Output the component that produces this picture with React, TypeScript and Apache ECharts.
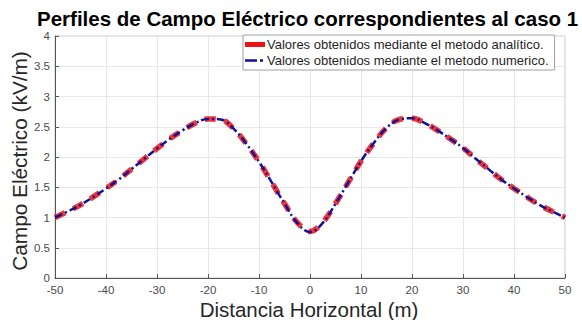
import React, { useEffect, useRef } from "react";
import * as echarts from "echarts";

const distances = [
  -50, -47.5, -45, -42.5, -40, -37.5, -35, -32.5, -30, -27.5, -25, -22.5, -20, -17.5, -15, -12.5, -10, -7.5, -5, -2.5,
  0, 2.5, 5, 7.5, 10, 12.5, 15, 17.5, 20, 22.5, 25, 27.5, 30, 32.5, 35, 37.5, 40, 42.5, 45, 47.5, 50,
];
const analytic = [
  1.0, 1.1, 1.21, 1.34, 1.48, 1.63, 1.8, 1.97, 2.14, 2.3, 2.44, 2.56, 2.63, 2.62, 2.47, 2.22, 1.92, 1.58, 1.23, 0.92,
  0.77, 0.92, 1.23, 1.58, 1.93, 2.23, 2.48, 2.62, 2.64, 2.56, 2.44, 2.3, 2.15, 1.97, 1.8, 1.63, 1.48, 1.34, 1.21, 1.1, 1.0,
];
const numeric = [
  1.0, 1.1, 1.21, 1.34, 1.48, 1.63, 1.8, 1.97, 2.14, 2.3, 2.44, 2.56, 2.63, 2.62, 2.47, 2.22, 1.92, 1.58, 1.23, 0.91,
  0.76, 0.91, 1.23, 1.58, 1.93, 2.23, 2.48, 2.62, 2.64, 2.56, 2.44, 2.3, 2.15, 1.97, 1.8, 1.63, 1.48, 1.34, 1.21, 1.1, 1.0,
];
const seriesNames = [
  "Valores obtenidos mediante el metodo analítico.",
  "Valores obtenidos mediante el metodo numerico.",
];
const titleText = "Perfiles de Campo Eléctrico correspondientes al caso 1";
const xName = "Distancia Horizontal (m)";
const yName = "Campo Eléctrico (kV/m)";

const FONT = "Liberation Sans, Arial, sans-serif";

export default function App() {
  const ref = useRef<HTMLDivElement>(null);
  useEffect(() => {
    if (!ref.current) return;
    const chart = echarts.init(ref.current, undefined, { renderer: "svg" });
    const red = "#ee1111";
    const blue = "#10109a";
    const dashDotIcon =
      "path://M0,0h0.01v0.01h-0.01z M19.99,4.99h0.01v0.01h-0.01z M0,1.3h12v2.4h-12z M15,1.3h3v2.4h-3z";
    chart.setOption({
      animation: false,
      backgroundColor: "#ffffff",
      title: {
        text: titleText,
        left: 32,
        top: 3,
        textStyle: { fontFamily: FONT, fontSize: 20.5, fontWeight: "bold", color: "#000" },
      },
      grid: { left: 55, right: 17, top: 36, bottom: 42, show: true, borderColor: "#c8c8c8", borderWidth: 1 },
      legend: {
        orient: "vertical",
        left: 243,
        top: 35,
        itemGap: 3,
        itemWidth: 20,
        itemHeight: 5,
        padding: [3, 6, 3, 2],
        backgroundColor: "#ffffff",
        borderColor: "#a0a0a0",
        borderWidth: 1,
        textStyle: { fontFamily: FONT, fontSize: 13, color: "#262626", padding: [0, 0, 0, -3] },
        data: [
          { name: seriesNames[0], icon: "rect", itemStyle: { color: red } },
          { name: seriesNames[1], icon: dashDotIcon, itemStyle: { color: blue } },
        ],
      },
      xAxis: {
        type: "value",
        min: -50,
        max: 50,
        interval: 10,
        axisLine: { show: true, onZero: false, lineStyle: { color: "#555", width: 1 } },
        axisTick: { show: true, inside: true, length: 4, lineStyle: { color: "#555" } },
        axisLabel: { fontFamily: FONT, fontSize: 11.5, color: "#4a4a4a", margin: 6 },
        splitLine: { show: true, lineStyle: { color: "#e8e8e8", width: 1 } },
      },
      yAxis: {
        type: "value",
        min: 0,
        max: 4,
        interval: 0.5,
        axisLine: { show: true, onZero: false, lineStyle: { color: "#555", width: 1 } },
        axisTick: { show: true, inside: true, length: 4, lineStyle: { color: "#555" } },
        axisLabel: { fontFamily: FONT, fontSize: 11.5, color: "#4a4a4a", margin: 5 },
        splitLine: { show: true, lineStyle: { color: "#e8e8e8", width: 1 } },
      },
      graphic: [
        {
          type: "text",
          x: 309,
          y: 309,
          style: {
            text: xName,
            fontFamily: FONT,
            fontSize: 20.5,
            fill: "#262626",
            align: "center",
            verticalAlign: "middle",
          },
        },
        {
          type: "text",
          x: 19,
          y: 161,
          rotation: Math.PI / 2,
          style: {
            text: yName,
            fontFamily: FONT,
            fontSize: 20.8,
            fill: "#262626",
            align: "center",
            verticalAlign: "middle",
          },
        },
      ],
      series: [
        {
          name: seriesNames[0],
          type: "line",
          data: distances.map((d, i) => [d, analytic[i]]),
          showSymbol: false,
          symbol: "none",
          smooth: 0.4,
          lineStyle: { color: red, width: 5.5, type: [11, 9], opacity: 0.85 },
          itemStyle: { color: red },
          z: 2,
        },
        {
          name: seriesNames[1],
          type: "line",
          data: distances.map((d, i) => [d, numeric[i]]),
          showSymbol: false,
          symbol: "none",
          smooth: 0.4,
          lineStyle: { color: blue, width: 2.5, type: [8, 3, 2, 3] },
          itemStyle: { color: blue },
          z: 3,
        },
      ],
    });
    return () => chart.dispose();
  }, []);
  return <div ref={ref} style={{ position: "fixed", left: 0, top: 0, width: 582, height: 320 }} />;
}
